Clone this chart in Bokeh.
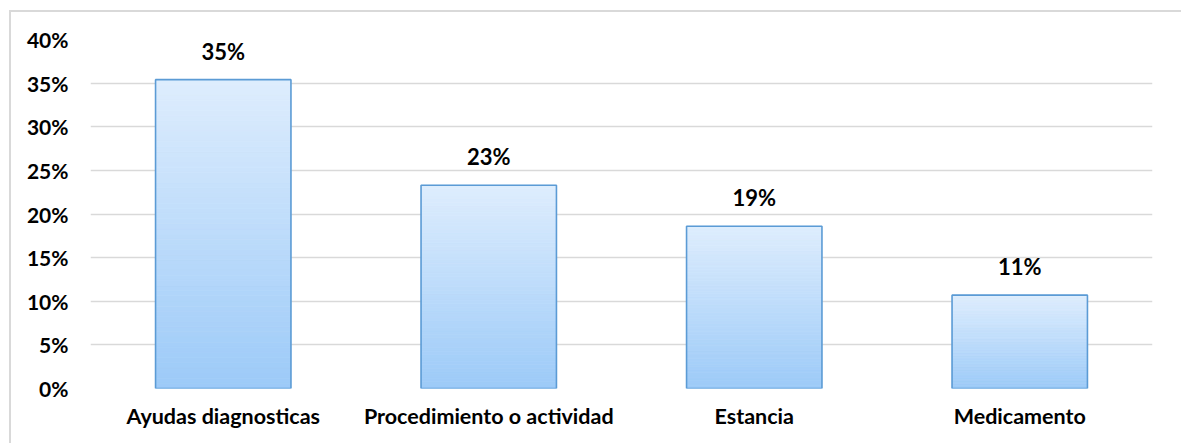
from bokeh.plotting import figure
from bokeh.models import ColumnDataSource, FixedTicker, CustomJSTickFormatter
from bokeh.core.properties import value as pv
from bokeh.embed import file_html
from bokeh.resources import INLINE
import numpy as np

categories = ["Ayudas diagnosticas", "Procedimiento o actividad", "Estancia", "Medicamento"]
values = [35.4, 23.3, 18.6, 10.7]  # percent
y_ticks = [0, 5, 10, 15, 20, 25, 30, 35, 40]

FONT = "Lato"
TOP_C = np.array([0xde, 0xed, 0xfd])
BOT_C = np.array([0x9c, 0xca, 0xf8])

p = figure(x_range=categories, y_range=(0, 40),
           frame_width=1062, frame_height=349,
           min_border_left=79, min_border_right=29, min_border_top=27, min_border_bottom=55,
           output_backend="svg", toolbar_location=None)
p.styles = {"margin-left": "9px", "margin-top": "10px",
            "border-left": "2px solid #d9d9d9", "border-top": "2px solid #d9d9d9",
            "border-right": "1px solid #ececec"}

# gradient bars built from thin slices
N = 60
xs, bots, tops, cols = [], [], [], []
for c, v in zip(categories, values):
    for i in range(N):
        b = v * i / N
        t = v * (i + 1) / N
        f = (i + 0.5) / N  # 0 bottom -> 1 top
        rgb = BOT_C + (TOP_C - BOT_C) * f
        xs.append(c); bots.append(b); tops.append(t)
        cols.append("#%02x%02x%02x" % tuple(int(round(x)) for x in rgb))
p.vbar(x=xs, bottom=bots, top=tops, width=0.508, fill_color=cols,
       line_color=cols, line_width=0.8)

src = ColumnDataSource(dict(cat=categories, val=values,
                            lab=["%d%%" % round(v) for v in values]))
p.vbar(x="cat", top="val", bottom=0, width=0.51, source=src,
       fill_color=None, line_color="#5b9bd5", line_width=1.6)
p.text(x="cat", y="val", text="lab", source=src, text_align="center",
       text_baseline="bottom", y_offset=-15, text_font_size="22px",
       text_font=pv(FONT), text_font_style="bold", text_color="#000000")

p.yaxis.ticker = FixedTicker(ticks=y_ticks)
p.yaxis.formatter = CustomJSTickFormatter(code="return tick + '%';")

for ax in (p.xaxis, p.yaxis):
    ax.axis_line_color = None
    ax.major_tick_line_color = None
    ax.minor_tick_line_color = None
    ax.major_label_text_font = FONT
    ax.major_label_text_font_style = "bold"
    ax.major_label_text_font_size = "21px"
    ax.major_label_text_color = "#000000"
p.yaxis.major_label_standoff = 16
p.xaxis.major_label_standoff = 8
p.xaxis.major_label_text_font_size = "21.5px"

p.xgrid.grid_line_color = None
p.ygrid.ticker = FixedTicker(ticks=y_ticks)
p.ygrid.grid_line_color = "#d9d9d9"
p.ygrid.grid_line_width = 1.6
p.outline_line_color = None
p.background_fill_color = "white"
p.border_fill_color = "white"

open("out.html", "w").write(file_html(p, INLINE))
